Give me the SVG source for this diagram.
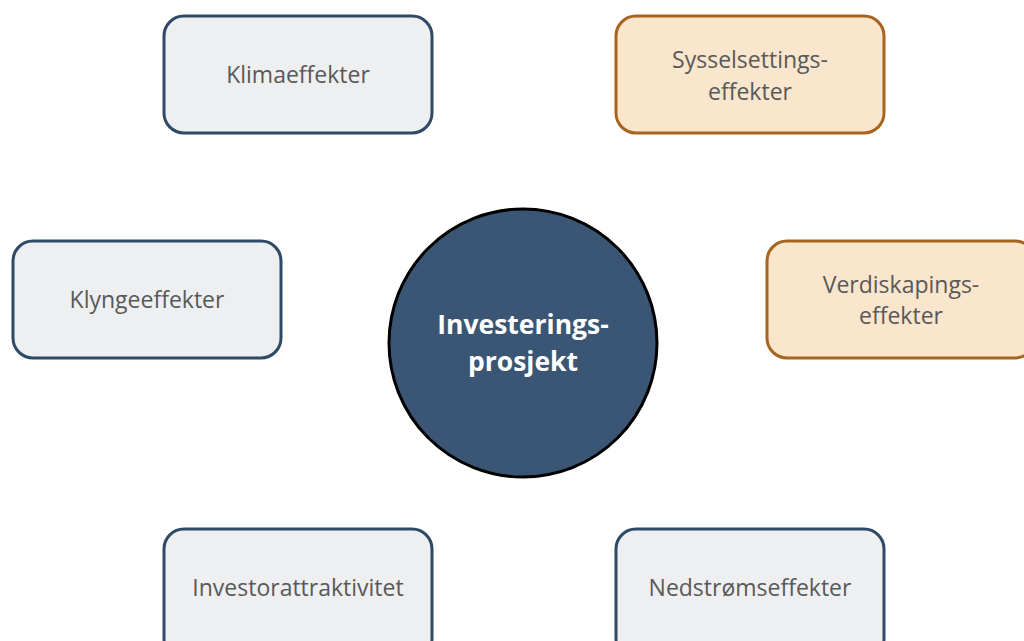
<svg xmlns="http://www.w3.org/2000/svg" width="1024" height="641" viewBox="0 0 1024 641">
  <style>
    .box { fill: #eeeff1; stroke: #2f4a66; stroke-width: 3; }
    .warm { fill: #fae5cd; stroke: #a5651f; stroke-width: 3; }
    .lbl { font-family: "Open Sans", "Liberation Sans", sans-serif; font-size: 23px; fill: #595959; text-anchor: middle; }
    .hub { fill: #3a5674; stroke: #000000; stroke-width: 3; }
    .hubtxt { font-family: "Open Sans", "Liberation Sans", sans-serif; font-size: 26.5px; font-weight: bold; fill: #ffffff; text-anchor: middle; }
  </style>
  <rect width="1024" height="641" fill="#ffffff"/>
  <g id="connectors"></g>
  <g id="klima">
    <rect class="box" x="164" y="16" width="268" height="117" rx="20"/>
    <text class="lbl" x="298" y="83">Klimaeffekter</text>
  </g>
  <g id="sysselsetting">
    <rect class="warm" x="616" y="16" width="268" height="117" rx="20"/>
    <text class="lbl" x="750" y="68">Sysselsettings-</text>
    <text class="lbl" x="750" y="100">effekter</text>
  </g>
  <g id="klynge">
    <rect class="box" x="13" y="241" width="268" height="117" rx="20"/>
    <text class="lbl" x="147" y="308">Klyngeeffekter</text>
  </g>
  <g id="verdiskaping">
    <rect class="warm" x="767" y="241" width="268" height="117" rx="20"/>
    <text class="lbl" x="901" y="293">Verdiskapings-</text>
    <text class="lbl" x="901" y="324">effekter</text>
  </g>
  <g id="prosjekt">
    <circle class="hub" cx="523" cy="343" r="134"/>
    <text class="hubtxt" x="523" y="334">Investerings-</text>
    <text class="hubtxt" x="523" y="371">prosjekt</text>
  </g>
  <g id="investor">
    <rect class="box" x="164" y="529" width="268" height="130" rx="20"/>
    <text class="lbl" x="298" y="596">Investorattraktivitet</text>
  </g>
  <g id="nedstrom">
    <rect class="box" x="616" y="529" width="268" height="130" rx="20"/>
    <text class="lbl" x="750" y="596">Nedstrømseffekter</text>
  </g>
</svg>
